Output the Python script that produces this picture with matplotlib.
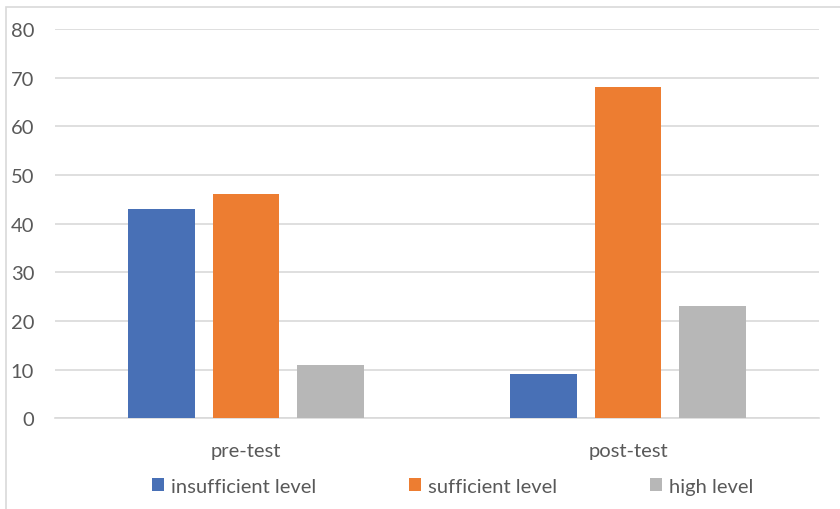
import matplotlib.pyplot as plt
import numpy as np
from matplotlib.patches import Rectangle

# ── Data ──────────────────────────────────────────────────────────────────────
categories = ["pre-test", "post-test"]
series_names = ["insufficient level", "sufficient level", "high level"]
insufficient = [43, 9]
sufficient = [46, 68]
high = [11, 23]

BLUE = "#4870B6"
ORANGE = "#ED7D31"
GRAY = "#B7B7B7"
TEXT = "#595959"
GRID = "#D9D9D9"

plt.rcParams["font.family"] = ["Lato", "DejaVu Sans"]

fig = plt.figure(figsize=(8.4, 5.1), dpi=100)
ax = fig.add_axes([0.0655, 0.178, 0.9095, 0.763])

# chart frame (partially visible: top and left edges)
fig.patches.append(Rectangle((6 / 840, -0.1), 1.2, 1.0 - 8 / 510 + 0.1,
                             transform=fig.transFigure, fill=False,
                             edgecolor=GRID, lw=1.2))

x = np.arange(len(categories))
width = 0.175
offset = 0.222
for i, (vals, col, name) in enumerate(zip([insufficient, sufficient, high],
                                           [BLUE, ORANGE, GRAY], series_names)):
    ax.bar(x + (i - 1) * offset, vals, width, color=col, label=name, zorder=3)

ax.set_xlim(-0.5, 1.5)
ax.set_ylim(0, 80)
ax.set_yticks(range(0, 81, 10))
ax.set_xticks(x)
ax.set_xticklabels(categories)
ax.tick_params(axis="both", length=0, labelsize=14.5, colors=TEXT)
ax.tick_params(axis="y", pad=15)
ax.tick_params(axis="x", pad=17)
ax.grid(axis="y", color=GRID, lw=1.2, zorder=0)
for s in ["top", "right", "left"]:
    ax.spines[s].set_visible(False)
ax.spines["bottom"].set_color(GRID)
ax.spines["bottom"].set_linewidth(1.2)

leg = ax.legend(loc="center", bbox_to_anchor=(0.521, -0.175), ncol=3,
                frameon=False, fontsize=14.5, handlelength=0.6,
                handleheight=0.6, handletextpad=0.35, columnspacing=4.6)
for t in leg.get_texts():
    t.set_color(TEXT)

fig.savefig("out.png", dpi=100, facecolor="white")
